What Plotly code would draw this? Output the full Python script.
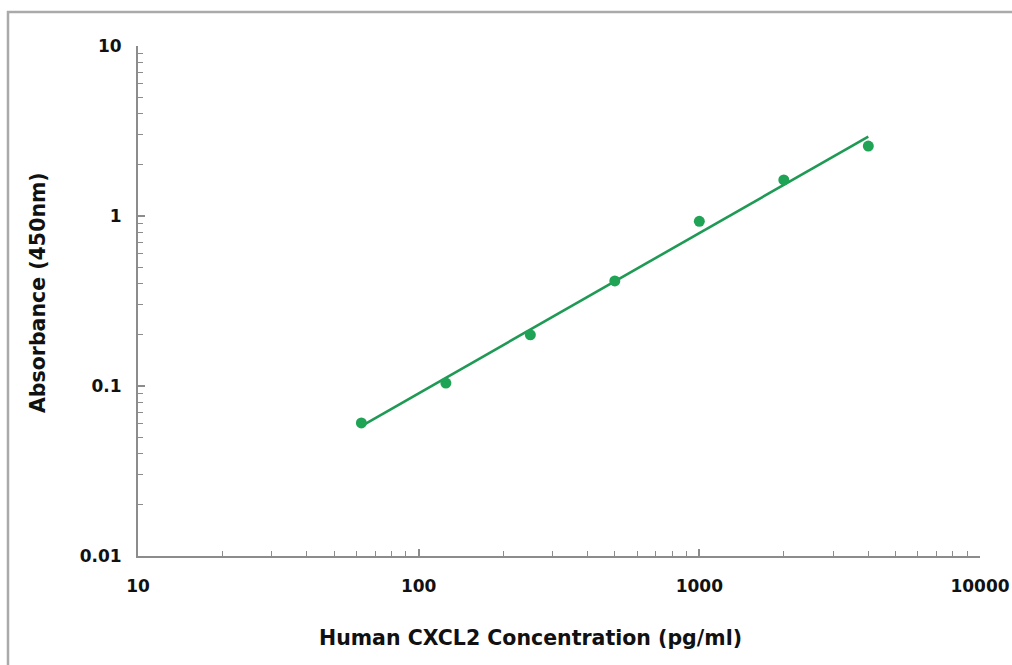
import numpy as np
import plotly.graph_objects as go

concentration = [62.5, 125, 250, 500, 1000, 2000, 4000]
absorbance = [0.0606, 0.104, 0.200, 0.415, 0.93, 1.63, 2.58]

x_ticks = [10, 100, 1000, 10000]
x_ticktext = ["10", "100", "1000", "10000"]
y_ticks = [0.01, 0.1, 1, 10]
y_ticktext = ["0.01", "0.1", "1", "10"]

x_title = "Human CXCL2 Concentration (pg/ml)"
y_title = "Absorbance (450nm)"

# log-log linear fit
lx = np.log10(concentration)
ly = np.log10(absorbance)
slope, intercept = np.polyfit(lx, ly, 1)
fit_x = np.array([concentration[0], concentration[-1]])
fit_y = 10 ** (intercept + slope * np.log10(fit_x))

def minors(lo, hi):
    vals = []
    k = lo
    while k < hi:
        for m in range(2, 10):
            vals.append(m * 10.0 ** k)
        k += 1
    return vals

fig = go.Figure()
fig.add_trace(go.Scatter(x=fit_x, y=fit_y, mode="lines",
                         line=dict(color="#1f9a55", width=2.6),
                         showlegend=False, hoverinfo="skip"))
fig.add_trace(go.Scatter(x=concentration, y=absorbance, mode="markers",
                         marker=dict(color="#1fa455", size=11),
                         showlegend=False))

fam = "DejaVu Sans"
axis_color = "#8c8c8c"
txt = "#111111"

fig.update_xaxes(type="log", range=[1, 4], tickvals=x_ticks, ticktext=x_ticktext,
                 automargin=False,
                 showgrid=False, zeroline=False, showline=True, linecolor=axis_color, linewidth=2,
                 ticks="inside", ticklen=7, tickwidth=1.5, tickcolor=axis_color,
                 minor=dict(tickvals=minors(1, 4), ticks="inside", ticklen=5, tickwidth=1.2,
                            tickcolor=axis_color, showgrid=False),
                 tickfont=dict(family=fam, size=17, color=txt, weight="bold"),
                 ticklabelstandoff=14)
fig.update_yaxes(type="log", range=[-2, 1], tickvals=y_ticks, ticktext=y_ticktext,
                 automargin=False,
                 showgrid=False, zeroline=False, showline=True, linecolor=axis_color, linewidth=2,
                 ticks="inside", ticklen=7, tickwidth=1.5, tickcolor=axis_color,
                 minor=dict(tickvals=minors(-2, 1), ticks="inside", ticklen=5, tickwidth=1.2,
                            tickcolor=axis_color, showgrid=False),
                 tickfont=dict(family=fam, size=17, color=txt, weight="bold"),
                 ticklabelstandoff=11)

title_font = dict(family=fam, size=20.5, color=txt, weight="bold")
fig.add_annotation(text=x_title, xref="paper", yref="paper", x=0.4656, y=-0.1608,
                   xanchor="center", yanchor="middle", showarrow=False, font=title_font)
fig.add_annotation(text=y_title, xref="paper", yref="paper", x=-0.1188, y=0.5176,
                   xanchor="center", yanchor="middle", textangle=-90, showarrow=False,
                   font=title_font)

fig.add_shape(type="rect", xref="paper", yref="paper",
              x0=-0.1544, x1=1.05, y0=-0.25, y1=1.0667,
              line=dict(color="#aaaaaa", width=2.5), fillcolor="rgba(0,0,0,0)", layer="below")

fig.update_layout(width=1012, height=665, autosize=False,
                  margin=dict(l=138, r=32, t=46, b=109),
                  plot_bgcolor="white", paper_bgcolor="white")

fig.write_html("out.html",
               config={"responsive": False, "displayModeBar": False},
               post_script="document.body.style.margin='0px';document.body.style.overflow='hidden';")
